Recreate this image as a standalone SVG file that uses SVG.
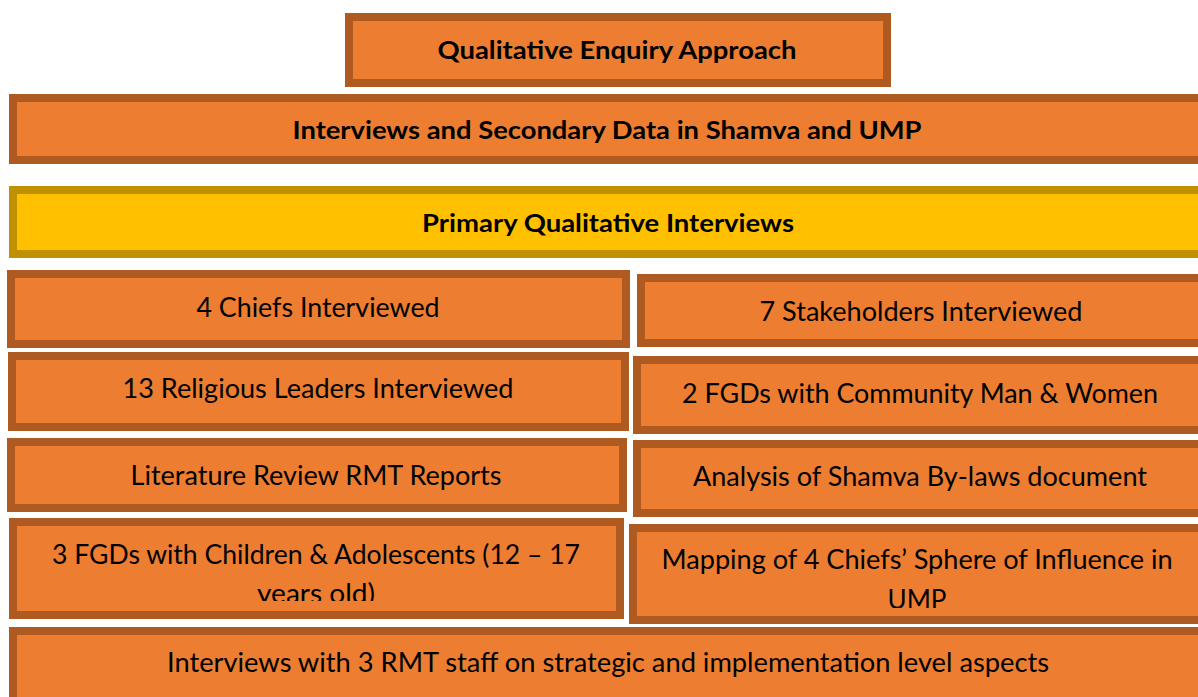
<svg xmlns="http://www.w3.org/2000/svg" width="1198" height="697" viewBox="0 0 1198 697">
  <style>
    .box { fill: #ED7D31; stroke: #AE5A21; stroke-width: 8; }
    .gold { fill: #FFC000; stroke: #BF9000; stroke-width: 8; }
    .h { font-family: Lato, "Open Sans", "Liberation Sans", sans-serif; font-weight: bold; font-size: 25px; fill: #000; text-anchor: middle; }
    .t { font-family: Lato, "Open Sans", "Liberation Sans", sans-serif; font-size: 26px; fill: #000; text-anchor: middle; }
  </style>
  <defs>
    <clipPath id="clipChildren"><rect x="0" y="518" width="630" height="83"/></clipPath>
    <clipPath id="clipMapping"><rect x="630" y="524" width="568" height="84"/></clipPath>
  </defs>
  <rect width="1198" height="697" fill="#ffffff"/>

  <g id="approach">
    <rect class="box" x="349" y="17" width="538" height="66"/>
    <text class="h" x="617" y="59" textLength="359" lengthAdjust="spacingAndGlyphs">Qualitative Enquiry Approach</text>
  </g>

  <g id="interviews-secondary">
    <rect class="box" x="13" y="98" width="1200" height="62"/>
    <text class="h" x="607" y="139" textLength="629" lengthAdjust="spacingAndGlyphs">Interviews and Secondary Data in Shamva and UMP</text>
  </g>

  <g id="primary">
    <rect class="gold" x="13" y="190" width="1200" height="64"/>
    <text class="h" x="608" y="232" textLength="372" lengthAdjust="spacingAndGlyphs">Primary Qualitative Interviews</text>
  </g>

  <g id="chiefs">
    <rect class="box" x="11" y="274" width="615" height="70"/>
    <text class="t" x="318" y="317" textLength="243" lengthAdjust="spacingAndGlyphs">4 Chiefs Interviewed</text>
  </g>

  <g id="stakeholders">
    <rect class="box" x="641" y="278" width="570" height="65"/>
    <text class="t" x="921" y="321" textLength="323" lengthAdjust="spacingAndGlyphs">7 Stakeholders Interviewed</text>
  </g>

  <g id="religious">
    <rect class="box" x="12" y="356" width="613" height="71"/>
    <text class="t" x="318" y="398" textLength="391" lengthAdjust="spacingAndGlyphs">13 Religious Leaders Interviewed</text>
  </g>

  <g id="fgd-community">
    <rect class="box" x="637" y="360" width="575" height="70"/>
    <text class="t" x="920" y="403" textLength="476" lengthAdjust="spacingAndGlyphs">2 FGDs with Community Man &amp; Women</text>
  </g>

  <g id="literature">
    <rect class="box" x="11" y="442" width="612" height="66"/>
    <text class="t" x="316" y="485" textLength="371" lengthAdjust="spacingAndGlyphs">Literature Review RMT Reports</text>
  </g>

  <g id="bylaws">
    <rect class="box" x="637" y="444" width="575" height="69"/>
    <text class="t" x="920" y="486" textLength="454" lengthAdjust="spacingAndGlyphs">Analysis of Shamva By-laws document</text>
  </g>

  <g id="fgd-children">
    <rect class="box" x="13" y="522" width="607" height="93"/>
    <g clip-path="url(#clipChildren)">
      <text class="t" x="316" y="564" textLength="528" lengthAdjust="spacingAndGlyphs">3 FGDs with Children &amp; Adolescents (12 – 17</text>
      <text class="t" x="316" y="603" textLength="118" lengthAdjust="spacingAndGlyphs">years old)</text>
    </g>
  </g>

  <g id="mapping">
    <rect class="box" x="633" y="528" width="579" height="92"/>
    <g clip-path="url(#clipMapping)">
      <text class="t" x="917" y="569" textLength="511" lengthAdjust="spacingAndGlyphs">Mapping of 4 Chiefs’ Sphere of Influence in</text>
      <text class="t" x="917" y="609">UMP</text>
    </g>
  </g>

  <g id="rmt-staff">
    <rect class="box" x="13" y="631" width="1200" height="80"/>
    <text class="t" x="608" y="672" textLength="882" lengthAdjust="spacingAndGlyphs">Interviews with 3 RMT staff on strategic and implementation level aspects</text>
  </g>

  <g id="connectors"></g>
</svg>
